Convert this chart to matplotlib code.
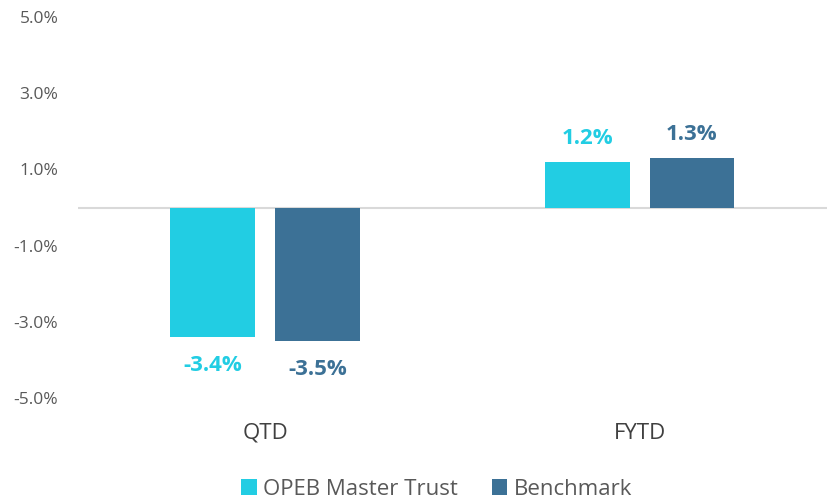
import numpy as np
import matplotlib.pyplot as plt
from matplotlib.ticker import FuncFormatter

categories = ["QTD", "FYTD"]
series_names = ["OPEB Master Trust", "Benchmark"]
trust_vals = [-3.4, 1.2]
bench_vals = [-3.5, 1.3]
yticks = [-5, -3, -1, 1, 3, 5]

colors = ["#22CDE3", "#3C7196"]
plt.rcParams['font.family'] = ['Open Sans', 'DejaVu Sans']

fig = plt.figure(figsize=(8.27, 5.01), dpi=100)
ax = fig.add_axes([0.094, 0.2056, 0.906, 0.7604])

x = np.arange(len(categories))
w = 0.226
gap = 0.053
offsets = [-(w + gap) / 2, (w + gap) / 2]

for vals, off, col, name in zip([trust_vals, bench_vals], offsets, colors, series_names):
    bars = ax.bar(x + off, vals, width=w, color=col, label=name, zorder=2)
    for b, v in zip(bars, vals):
        if v >= 0:
            ax.annotate(f"{v:.1f}%", (b.get_x() + b.get_width() / 2, v),
                        xytext=(0, 9), textcoords="offset points",
                        ha="center", va="bottom", fontsize=16, fontweight="bold", color=col)
        else:
            ax.annotate(f"{v:.1f}%", (b.get_x() + b.get_width() / 2, v),
                        xytext=(0, -13), textcoords="offset points",
                        ha="center", va="top", fontsize=16, fontweight="bold", color=col)

ax.axhline(0, color="#D9D9D9", lw=1.5, zorder=1)
ax.set_xlim(-0.5, 1.5)
ax.set_ylim(-5, 5)
ax.set_yticks(yticks)
ax.yaxis.set_major_formatter(FuncFormatter(lambda v, p: f"{v:.1f}%"))
ax.set_xticks(x)
ax.set_xticklabels(categories)
ax.tick_params(axis="y", length=0, pad=14, labelsize=12.5, labelcolor="#595959")
ax.tick_params(axis="x", length=0, pad=18, labelsize=16, labelcolor="#404040")
for s in ax.spines.values():
    s.set_visible(False)

leg = fig.legend(loc="lower center", bbox_to_anchor=(0.528, -0.038), ncol=2, frameon=False,
                 fontsize=16, handlelength=0.7, handleheight=0.7, handletextpad=0.3,
                 columnspacing=1.5, labelcolor="#595959")

fig.savefig("out.png", dpi=100)
